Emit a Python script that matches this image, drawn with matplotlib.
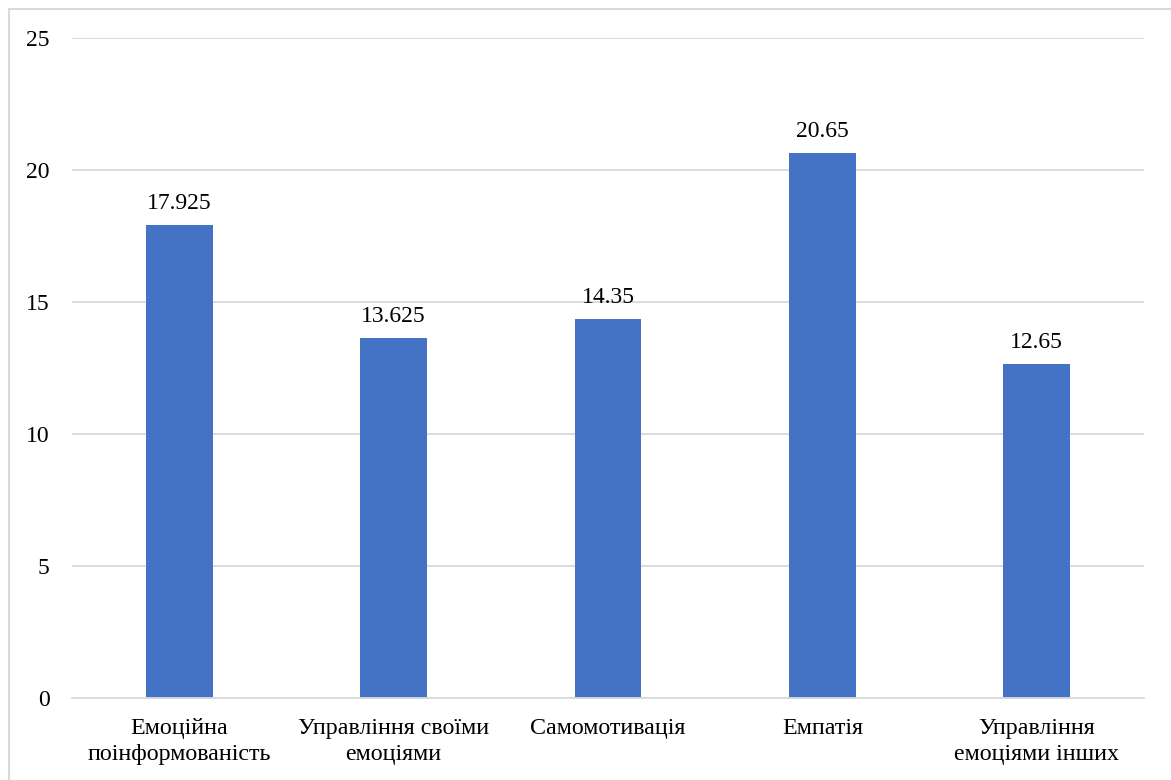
import matplotlib.pyplot as plt
from matplotlib.patches import Rectangle

# шкали емоційного інтелекту
categories = ["Емоційна\nпоінформованість", "Управління своїми\nемоціями",
              "Самомотивація", "Емпатія", "Управління\nемоціями інших"]
values = [17.925, 13.625, 14.35, 20.65, 12.65]
value_labels = ["17.925", "13.625", "14.35", "20.65", "12.65"]
yticks = [0, 5, 10, 15, 20, 25]

plt.rcParams['font.family'] = ['Liberation Serif', 'DejaVu Serif']

W, H = 1171, 780
fig = plt.figure(figsize=(W / 100, H / 100), dpi=100)
ax = fig.add_axes([72 / W, 1 - 698 / H, (1144 - 72) / W, (698 - 38) / H])

x = list(range(len(categories)))
ax.bar(x, values, width=0.312, color='#4472c4', zorder=3)

for xi, v, lab in zip(x, values, value_labels):
    ax.annotate(lab, (xi, v), xytext=(0, 11.5), textcoords='offset points',
                ha='center', va='baseline', fontsize=17, color='black')

ax.set_xlim(-0.5, len(categories) - 0.5)
ax.set_ylim(0, 25)
ax.set_yticks(yticks)
ax.set_yticklabels([str(t) for t in yticks])
ax.set_xticks(x)
ax.set_xticklabels(categories, linespacing=1.32)

ax.grid(axis='y', color='#d9d9d9', linewidth=1.3, zorder=0)
for s in ['top', 'right', 'left']:
    ax.spines[s].set_visible(False)
ax.spines['bottom'].set_color('#d9d9d9')
ax.spines['bottom'].set_linewidth(1.3)
ax.spines['bottom'].set_zorder(4)

ax.tick_params(axis='y', length=0, pad=16, labelsize=17)
ax.tick_params(axis='x', length=0, pad=14.5, labelsize=17.3)

# рамка області діаграми
fig.patches.append(Rectangle((9 / W, -0.1), 1.2, 1 - 9 / H + 0.1,
                             transform=fig.transFigure, fill=False,
                             edgecolor='#d9d9d9', linewidth=1.5))

fig.savefig("out.png", dpi=100, facecolor='white')
